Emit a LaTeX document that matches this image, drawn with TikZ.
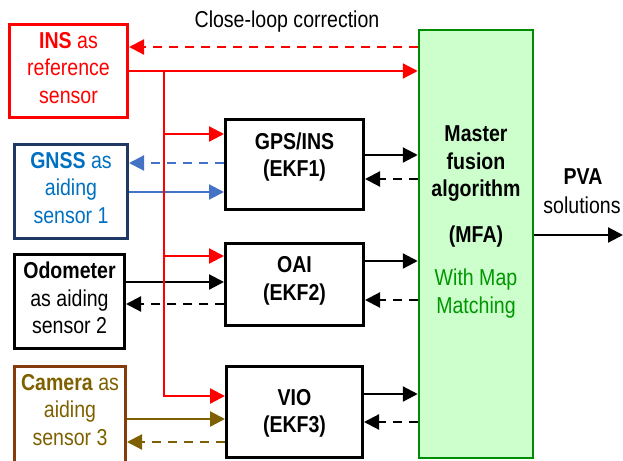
\documentclass[tikz,border=0pt]{standalone}
\usepackage{fontspec}
\setmainfont{Liberation Sans}[FakeStretch=0.85]
\usetikzlibrary{arrows.meta}
\definecolor{insred}{RGB}{255,0,0}
\definecolor{gnsstext}{RGB}{0,112,192}
\definecolor{gnssborder}{RGB}{31,56,100}
\definecolor{gnssline}{RGB}{68,114,196}
\definecolor{camtext}{RGB}{127,96,0}
\definecolor{camborder}{RGB}{132,60,12}
\definecolor{mfafill}{RGB}{204,255,204}
\definecolor{mfaborder}{RGB}{0,140,0}
\definecolor{mfatext}{RGB}{0,150,0}
\tikzset{
  txt/.style={font=\fontsize{23}{27.5}\selectfont, align=center, inner sep=0pt},
  box/.style={draw, line width=3pt, inner sep=0pt},
  conn/.style={line width=2.2pt, -{Triangle[length=15pt,width=15pt]}},
  dconn/.style={conn, dash pattern=on 9pt off 7pt},
}
\begin{document}
\begin{tikzpicture}[x=1pt,y=-1pt]
\useasboundingbox (0,0) rectangle (623,460);
% boxes
\node[box, draw=insred, minimum width=118pt, minimum height=93pt] (ins) at (68.5,71) {};
\node[box, draw=gnssborder, minimum width=113pt, minimum height=94pt] (gnss) at (71,191.5) {};
\node[box, draw=black, minimum width=110pt, minimum height=94pt] (odo) at (69.5,301.5) {};
\node[box, draw=camborder, minimum width=111pt, minimum height=104pt] (cam) at (70,418.5) {};
\node[box, draw=black, minimum width=138pt, minimum height=90pt] (gps) at (294.5,164.5) {};
\node[box, draw=black, minimum width=138pt, minimum height=82pt] (oai) at (294.5,284.5) {};
\node[box, draw=black, minimum width=136pt, minimum height=91pt] (vio) at (294.5,412) {};
\node[box, draw=mfaborder, fill=mfafill, line width=2.5pt, minimum width=114pt, minimum height=428pt] (mfa) at (476,244) {};
% texts
\node[txt, text=insred] (inst) at (68.5,68) {\textbf{INS} as\\reference\\sensor};
\node[txt, text=gnsstext] (gnsst) at (71,188) {\textbf{GNSS} as\\aiding\\sensor 1};
\node[txt] (odot) at (69.5,298) {\textbf{Odometer}\\as aiding\\sensor 2};
\node[txt, text=camtext] (camt) at (70,410) {\textbf{Camera} as\\aiding\\sensor 3};
\node[txt, font=\fontsize{23}{27.5}\selectfont\bfseries] (gpst) at (294.5,157) {GPS/INS\\(EKF1)};
\node[txt, font=\fontsize{23}{27.5}\selectfont\bfseries] (oait) at (294.5,281) {OAI\\(EKF2)};
\node[txt, font=\fontsize{23}{27.5}\selectfont\bfseries] (viot) at (294.5,413.5) {VIO\\(EKF3)};
\node[txt, font=\fontsize{23}{27.5}\selectfont\bfseries] (mfat1) at (476,164) {Master\\fusion\\algorithm};
\node[txt, font=\fontsize{23}{27.5}\selectfont\bfseries] (mfat2) at (476,237) {(MFA)};
\node[txt, text=mfatext] (mfat3) at (476,293.5) {With Map\\Matching};
\node[txt, font=\fontsize{23}{27.5}\selectfont\bfseries] (pva) at (583,177) {PVA};
\node[txt] (sol) at (582,205) {solutions};
\node[txt] (clc) at (287,22) {Close-loop correction};
% connectors
\coordinate (tr) at (164,71);
\coordinate (out) at (623,235);
\draw[dconn, insred] (mfa.west |- 0,47) -- (ins.east |- 0,47);
\draw[conn, insred] (ins.east |- 0,71) -- (mfa.west |- 0,71);
\draw[dconn, gnssline] (gps.west |- 0,163) -- (gnss.east |- 0,163);
\draw[conn, gnssline] (gnss.east |- 0,192) -- (gps.west |- 0,192);
\draw[conn, black] (odo.east |- 0,282) -- (oai.west |- 0,282);
\draw[dconn, black] (oai.west |- 0,304) -- (odo.east |- 0,304);
\draw[conn, camtext] (cam.east |- 0,419) -- (vio.west |- 0,419);
\draw[dconn, camtext] (vio.west |- 0,442) -- (cam.east |- 0,442);
\draw[conn, insred] (tr) |- (vio.west |- 0,396);
\draw[conn, insred] (tr |- 0,134) -- (gps.west |- 0,134);
\draw[conn, insred] (tr |- 0,256) -- (oai.west |- 0,256);
\draw[conn] (gps.east |- 0,155) -- (mfa.west |- 0,155);
\draw[dconn] (mfa.west |- 0,179) -- (gps.east |- 0,179);
\draw[conn] (oai.east |- 0,261) -- (mfa.west |- 0,261);
\draw[dconn] (mfa.west |- 0,300) -- (oai.east |- 0,300);
\draw[conn] (vio.east |- 0,394) -- (mfa.west |- 0,394);
\draw[dconn] (mfa.west |- 0,422) -- (vio.east |- 0,422);
\draw[conn] (mfa.east |- 0,235) -- (out);
\end{tikzpicture}
\end{document}
